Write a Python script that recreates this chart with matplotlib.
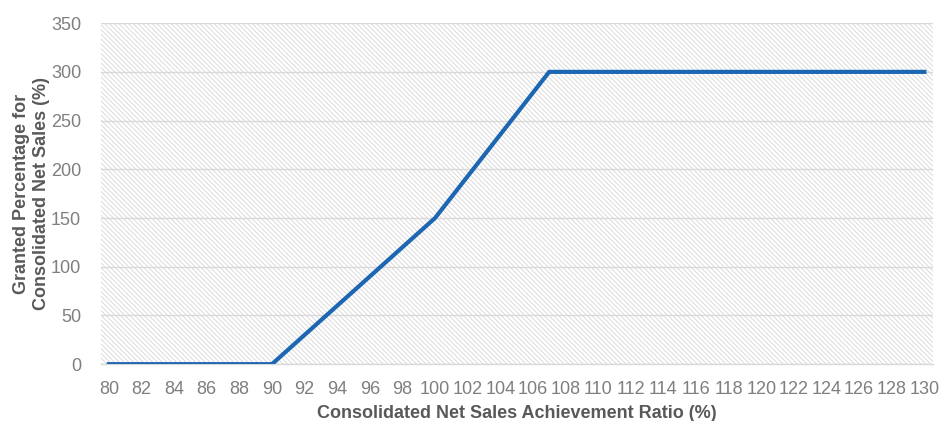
import matplotlib.pyplot as plt
from matplotlib.patches import Rectangle

# achievement ratio (%) and granted percentage (%)
ratios = list(range(80, 131))
granted = ([0] * 11
           + [15, 30, 45, 60, 75, 90, 105, 120, 135, 150]
           + [171.4, 192.9, 214.3, 235.7, 257.1, 278.6, 300]
           + [300] * 23)
tick_labels = [str(r) if r % 2 == 0 else "" for r in ratios]

plt.rcParams["font.family"] = ["Liberation Sans", "DejaVu Sans"]
plt.rcParams["hatch.linewidth"] = 0.6
plt.rcParams["hatch.color"] = "#d6d6d6"

fig = plt.figure(figsize=(9.41, 4.21), dpi=100)
ax = fig.add_axes([0.107, 0.135, 0.884, 0.81])

x = list(range(len(ratios)))

# hatched plot area background
ax.add_patch(Rectangle((0, 0), 1, 1, transform=ax.transAxes,
                       facecolor="white", edgecolor="#d6d6d6",
                       hatch="\\" * 7, linewidth=0, zorder=0))

ax.plot(x, granted, color="#1d66b2", linewidth=3, zorder=3,
        solid_joinstyle="miter")

ax.set_xlim(-0.5, len(ratios) - 0.5)
ax.set_ylim(0, 350)
ax.set_yticks(range(0, 351, 50))
ax.set_xticks(x)
ax.set_xticklabels(tick_labels)

ax.grid(axis="y", color="#d9d9d9", linewidth=1, zorder=1)
ax.set_axisbelow(True)

for side in ["top", "right", "left"]:
    ax.spines[side].set_visible(False)
ax.spines["bottom"].set_color("#d9d9d9")
ax.spines["bottom"].set_linewidth(1)

ax.tick_params(axis="both", length=0, labelsize=13, labelcolor="#7f7f7f")
ax.tick_params(axis="x", pad=12)
ax.tick_params(axis="y", pad=14)

ax.set_xlabel("Consolidated Net Sales Achievement Ratio (%)",
              fontsize=13, fontweight="bold", color="#595959", labelpad=5)
ax.set_ylabel("Granted Percentage for\nConsolidated Net Sales (%)",
              fontsize=13, fontweight="bold", color="#595959", labelpad=1)

plt.savefig("out.png", dpi=100)
